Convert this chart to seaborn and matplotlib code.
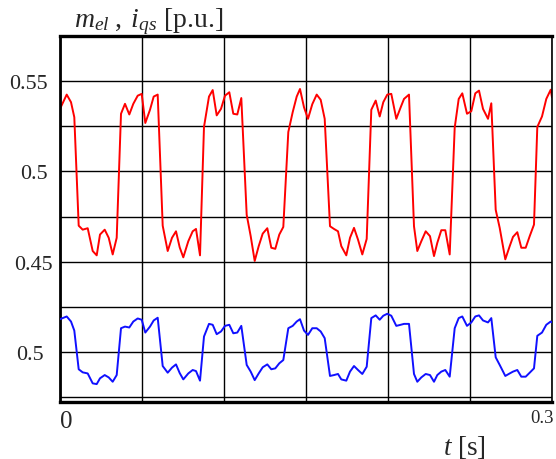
import numpy as np
import pandas as pd
import matplotlib
matplotlib.use("Agg")
import matplotlib.pyplot as plt
import seaborn as sns

# time samples [s]
t = [0.0, 0.00409, 0.00671, 0.00872, 0.0114, 0.01384, 0.01689, 0.01994, 0.02238, 0.02439,
     0.02726, 0.0297, 0.03213, 0.03457, 0.0372, 0.03963, 0.04226, 0.0447, 0.04738, 0.04982,
     0.05201, 0.05488, 0.05713, 0.05957, 0.06262, 0.06567, 0.06829, 0.07073, 0.07299, 0.07518,
     0.07823, 0.08091, 0.08293, 0.08537, 0.0878, 0.09085, 0.09311, 0.09555, 0.09817, 0.10061,
     0.10323, 0.10567, 0.10811, 0.11055, 0.11384, 0.11628, 0.11872, 0.12116, 0.1236, 0.1264,
     0.12884, 0.13128, 0.13372, 0.13616, 0.13921, 0.14189, 0.14433, 0.14634, 0.14878, 0.15122,
     0.15384, 0.15652, 0.15896, 0.1614, 0.16463, 0.16707, 0.16951, 0.17152, 0.17457, 0.17683,
     0.17927, 0.18171, 0.18433, 0.18701, 0.18982, 0.1925, 0.19494, 0.19713, 0.19957, 0.20201,
     0.20506, 0.20774, 0.20976, 0.2128, 0.21585, 0.21787, 0.22031, 0.22299, 0.22561, 0.22805,
     0.23006, 0.2325, 0.23494, 0.23762, 0.24067, 0.24311, 0.2453, 0.24817, 0.25079, 0.25323,
     0.25549, 0.25793, 0.26098, 0.26299, 0.26567, 0.26811, 0.27152, 0.27421, 0.27622, 0.27884,
     0.28128, 0.28396, 0.2864, 0.28902, 0.29104, 0.2939, 0.29652, 0.29921, 0.3]

# electromagnetic torque m_el [p.u.]
m_el = [0.5346, 0.5425, 0.5383, 0.530, 0.470, 0.4678, 0.4686, 0.456, 0.4536, 0.4651,
        0.4678, 0.4633, 0.4541, 0.4633, 0.5319, 0.5374, 0.5315, 0.5374, 0.5419, 0.5429,
        0.5268, 0.5341, 0.5414, 0.5425, 0.470, 0.456, 0.4633, 0.4669, 0.458, 0.4525,
        0.4614, 0.4669, 0.4682, 0.4536, 0.5246, 0.5414, 0.545, 0.531, 0.5346, 0.5419,
        0.5438, 0.5319, 0.5315, 0.5406, 0.476, 0.4642, 0.4505, 0.4587, 0.4656, 0.4686,
        0.4578, 0.4572, 0.4651, 0.4693, 0.5218, 0.5328, 0.5414, 0.5456, 0.5355, 0.5291,
        0.5372, 0.5425, 0.5396, 0.5291, 0.4697, 0.4682, 0.4669, 0.4587, 0.4536, 0.4633,
        0.4688, 0.4623, 0.4541, 0.4627, 0.5341, 0.5392, 0.5304, 0.5383, 0.5425, 0.5429,
        0.5291, 0.5355, 0.5401, 0.5425, 0.4697, 0.456, 0.4614, 0.4669, 0.4642, 0.4532,
        0.4605, 0.4675, 0.4675, 0.4541, 0.5242, 0.5401, 0.5432, 0.5319, 0.5333, 0.5432,
        0.5447, 0.5346, 0.5291, 0.5377, 0.4788, 0.4688, 0.4514, 0.4587, 0.4638, 0.4664,
        0.4578, 0.4578, 0.4642, 0.4706, 0.5246, 0.5304, 0.5401, 0.5452, 0.541]

# q-axis stator current i_qs [p.u.]
i_qs = [0.5183, 0.5198, 0.517, 0.512, 0.4906, 0.4889, 0.4883, 0.4828, 0.4824, 0.4856,
        0.4874, 0.4861, 0.4837, 0.4874, 0.5133, 0.5142, 0.5137, 0.517, 0.5187, 0.518,
        0.5109, 0.5142, 0.5176, 0.5191, 0.4924, 0.4887, 0.4915, 0.4933, 0.4885, 0.485,
        0.4883, 0.4902, 0.4896, 0.4843, 0.5087, 0.5157, 0.5152, 0.51, 0.5115, 0.5146,
        0.5152, 0.5105, 0.5109, 0.5146, 0.493, 0.4893, 0.4846, 0.4883, 0.4917, 0.4933,
        0.4906, 0.4911, 0.4939, 0.4957, 0.5133, 0.5146, 0.517, 0.5183, 0.512, 0.5096,
        0.5133, 0.5133, 0.5115, 0.5078, 0.4869, 0.4874, 0.488, 0.485, 0.4843, 0.4893,
        0.4924, 0.4902, 0.488, 0.492, 0.5189, 0.5204, 0.518, 0.5202, 0.5213, 0.5202,
        0.5146, 0.5152, 0.5157, 0.5157, 0.488, 0.4837, 0.4861, 0.488, 0.4874, 0.4837,
        0.4874, 0.4893, 0.4902, 0.4865, 0.5133, 0.5189, 0.5198, 0.5146, 0.5165, 0.5198,
        0.5204, 0.5176, 0.5165, 0.5189, 0.4972, 0.493, 0.4869, 0.4883, 0.4893, 0.4902,
        0.4865, 0.4865, 0.4887, 0.4911, 0.5091, 0.5109, 0.5152, 0.517, 0.5165]

x_ticks = [0.0, 0.05, 0.1, 0.15, 0.2, 0.25, 0.3]
m_grid = [0.375, 0.4, 0.425, 0.45, 0.475, 0.5, 0.525, 0.55]
m_ticklabels = ['', '', '', '0.45', '', '0.5', '', '0.55']
i_ticks = [0.5]
i_ticklabels = ['0.5']

sns.set_style("white")
plt.rcParams['font.family'] = ['Liberation Serif', 'DejaVu Serif']
plt.rcParams['mathtext.fontset'] = 'custom'
plt.rcParams['mathtext.rm'] = 'Liberation Serif'
plt.rcParams['mathtext.it'] = 'Liberation Serif:italic'

W, H = 556, 460
fig = plt.figure(figsize=(W / 100, H / 100), dpi=100)
L, R, T, B = 60, 552, 37, 403
ax = fig.add_axes([L / W, 1 - B / H, (R - L) / W, (B - T) / H])

df = pd.DataFrame({'t': t, 'm_el': m_el, 'i_qs': i_qs})
sns.lineplot(data=df, x='t', y='m_el', ax=ax, color='#ff0000', lw=1.4,
             estimator=None, sort=False)

ax.set_xlim(0, 0.3)
ax.set_ylim(0.3725, 0.5749)
ax.set_xticks(x_ticks)
ax.set_xticklabels([''] * len(x_ticks))
ax.set_yticks(m_grid)
ax.set_yticklabels(m_ticklabels, fontsize=15.8)
ax.grid(True, color='black', lw=1.0)
ax.set_axisbelow(True)
ax.tick_params(axis='both', length=0, pad=9)
ax.yaxis.get_major_ticks()[3].set_pad(5)
ax.set_xlabel('')
ax.set_ylabel('')

ax2 = ax.twinx()
sns.lineplot(data=df, x='t', y='i_qs', ax=ax2, color='#1010ff', lw=1.4,
             estimator=None, sort=False)
ax2.set_ylim(0.4725, 0.6749)
ax2.set_yticks(i_ticks)
ax2.set_yticklabels(i_ticklabels, fontsize=15.8)
ax2.yaxis.set_ticks_position('left')
ax2.tick_params(axis='y', length=0, pad=12)
ax2.set_ylabel('')
ax2.set_xlabel('')
for s in ax2.spines.values():
    s.set_visible(False)

for name, lw in [('top', 2.4), ('left', 2.0), ('bottom', 2.4), ('right', 1.2)]:
    ax.spines[name].set_visible(True)
    ax.spines[name].set_color('black')
    ax.spines[name].set_linewidth(lw)

fig.text(74 / W, 1 - 27 / H, r'$m_{el}\;,\;i_{qs}$ [p.u.]', fontsize=20,
         ha='left', va='baseline')
fig.text(66 / W, 1 - 428 / H, '0', fontsize=18, ha='center', va='baseline')
fig.text(530 / W, 1 - 423 / H, '0.3', fontsize=13.5, ha='left', va='baseline')
fig.text(443 / W, 1 - 455 / H, r'$t$ [s]', fontsize=19.5, ha='left', va='baseline')

fig.savefig('out.png', dpi=100)
